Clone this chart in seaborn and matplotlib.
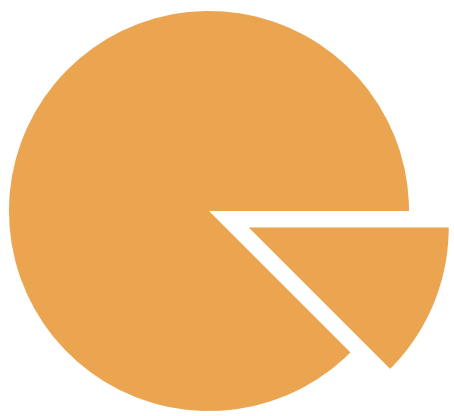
import matplotlib
matplotlib.use("Agg")
import matplotlib.pyplot as plt
import seaborn as sns

# slice shares (percent of the whole)
labels = ["Rest", "Share"]
values = [87.5, 12.5]
explode = [0.0, 0.215]
colour = "#EBA44F"

sns.set_theme(style="white")

fig = plt.figure(figsize=(4.54, 4.16), dpi=100)
ax = fig.add_axes([0, 0, 1, 1])
ax.pie(
    values,
    explode=explode,
    colors=[colour] * len(values),
    startangle=0,
    counterclock=True,
    radius=1.0,
    wedgeprops={"linewidth": 0},
)
ax.set_xlim(-1.045, 1.225)
ax.set_ylim(-1.025, 1.055)
ax.set_aspect("equal")
ax.axis("off")
fig.savefig("out.png", dpi=100)
plt.close(fig)
